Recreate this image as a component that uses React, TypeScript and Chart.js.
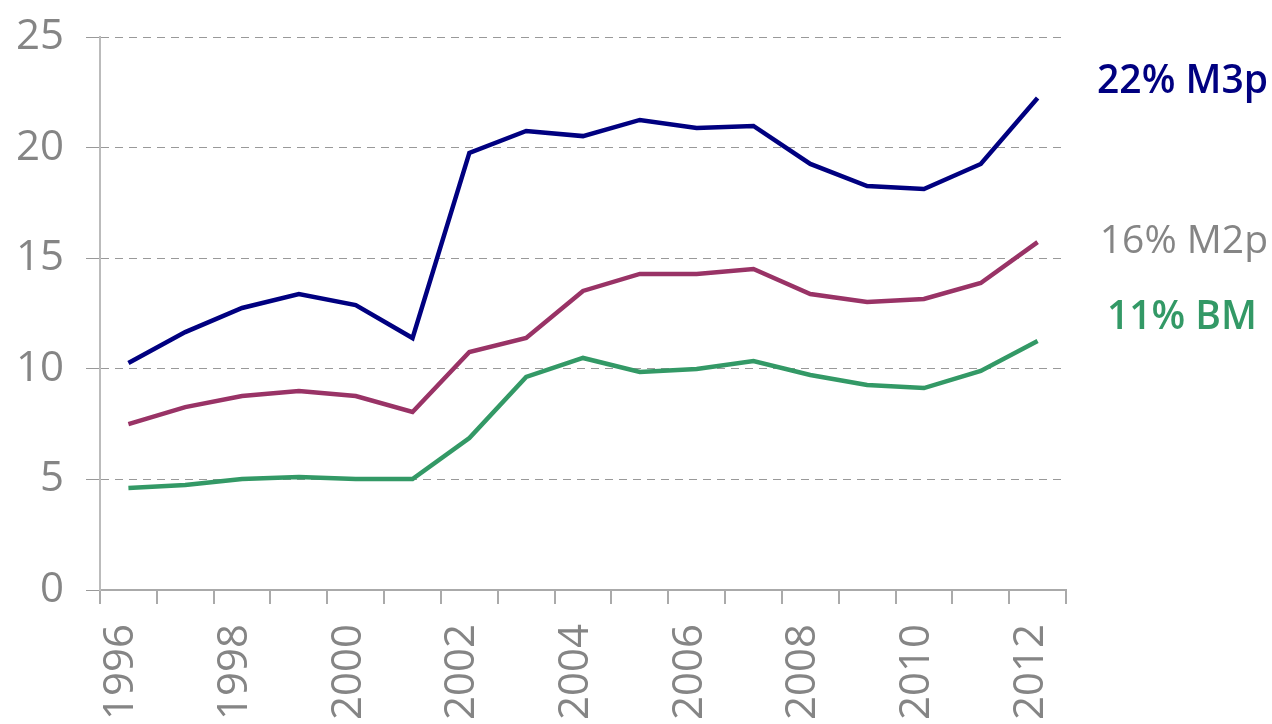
import React, { useEffect, useRef } from "react";
import { Chart, registerables } from "chart.js";

Chart.register(...registerables);

const years = ["1996","1997","1998","1999","2000","2001","2002","2003","2004","2005","2006","2007","2008","2009","2010","2011","2012"];
const m3p = [10.26, 11.66, 12.75, 13.38, 12.88, 11.39, 19.76, 20.75, 20.52, 21.25, 20.89, 20.98, 19.26, 18.26, 18.13, 19.26, 22.24];
const m2p = [7.5, 8.27, 8.77, 9.0, 8.77, 8.05, 10.76, 11.39, 13.52, 14.29, 14.29, 14.51, 13.38, 13.02, 13.16, 13.88, 15.73];
const bm = [4.61, 4.75, 5.02, 5.11, 5.02, 5.02, 6.87, 9.63, 10.49, 9.86, 9.99, 10.35, 9.72, 9.27, 9.13, 9.9, 11.26];
const seriesNames = ["22% M3p", "16% M2p", "11% BM"];
const seriesColors = ["#000080", "#993366", "#339966"];
const labelColors = ["#000080", "#858585", "#339966"];
const labelWeights = ["600", "400", "600"];
const labelValues = [22.95, 15.75, 12.3];

const FONT = "'Open Sans', 'DejaVu Sans', sans-serif";

const rightLabels = {
  id: "rightLabels",
  afterDraw(chart: any) {
    const ctx = chart.ctx;
    const y = chart.scales.y;
    ctx.save();
    ctx.textBaseline = "middle";
    ctx.textAlign = "right";
    seriesNames.forEach((n, i) => {
      ctx.font = `${labelWeights[i]} 39px ${FONT}`;
      ctx.fillStyle = labelColors[i];
      ctx.fillText(n, i === 2 ? 1257 : 1268, y.getPixelForValue(labelValues[i]));
    });
    ctx.restore();
  },
};

export default function App() {
  const ref = useRef<HTMLCanvasElement>(null);
  useEffect(() => {
    const chart = new Chart(ref.current!, {
      type: "line",
      data: {
        labels: years,
        datasets: [
          { data: m3p, borderColor: seriesColors[0], borderWidth: 4.5, pointRadius: 0, tension: 0 },
          { data: m2p, borderColor: seriesColors[1], borderWidth: 4.5, pointRadius: 0, tension: 0 },
          { data: bm, borderColor: seriesColors[2], borderWidth: 4.5, pointRadius: 0, tension: 0 },
        ],
      },
      options: {
        animation: false,
        responsive: true,
        maintainAspectRatio: false,
        layout: { padding: { top: 37, right: 206, left: 0, bottom: 0 } },
        plugins: { legend: { display: false }, tooltip: { enabled: false } },
        scales: {
          x: {
            offset: true,
            grid: { offset: true, drawOnChartArea: false, drawTicks: true, tickLength: 14, color: "#aaaaaa", lineWidth: 2 },
            border: { color: "#aaaaaa", width: 2 },
            ticks: {
              autoSkip: false,
              maxRotation: 90,
              minRotation: 90,
              color: "#858585",
              padding: 20,
              labelOffset: -7,
              font: { family: FONT, size: 42 },
              callback: (_v: any, i: number) => (i % 2 === 0 ? years[i] : ""),
            },
            afterFit: (s: any) => { s.height = 134; s.paddingLeft = 0; s.paddingRight = 0; s.paddingTop = 0; s.paddingBottom = 0; },
          },
          y: {
            min: 0,
            max: 25,
            ticks: { stepSize: 5, color: "#858585", padding: 22, font: { family: FONT, size: 42 } },
            grid: { color: "#999999", lineWidth: 1, tickLength: 14 },
            border: { color: "#bbbbbb", width: 2, dash: [8, 6] },
            afterFit: (s: any) => { s.width = 100; s.paddingTop = 0; s.paddingBottom = 0; },
          },
        },
      },
      plugins: [rightLabels],
    });
    return () => chart.destroy();
  }, []);
  return (
    <div style={{ position: "fixed", left: 0, top: 0, width: 1272, height: 724 }}>
      <canvas ref={ref} />
    </div>
  );
}
